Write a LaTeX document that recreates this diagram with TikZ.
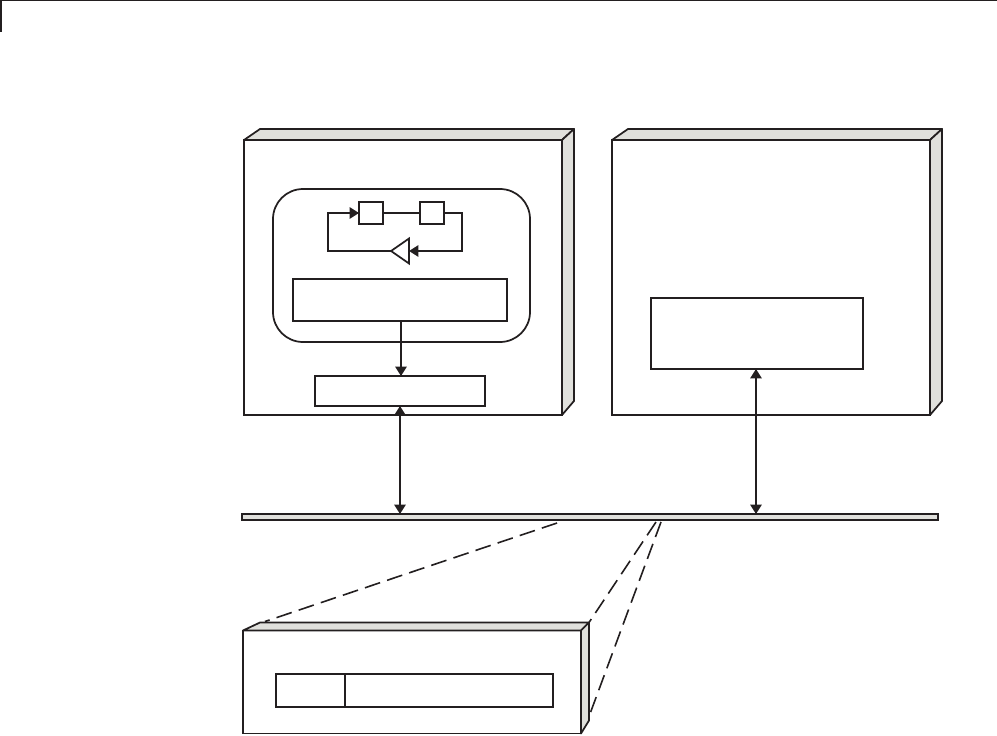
\documentclass[tikz,border=0pt]{standalone}
\usepackage{tikz}
\usetikzlibrary{arrows.meta, calc, positioning, shapes.geometric}
\definecolor{ink}{HTML}{231F20}
\definecolor{shade}{HTML}{E0E0DC}
\tikzset{
    edge/.style={draw=ink, line width=1.3pt},
    pane/.style 2 args={edge, fill=white, rectangle, inner sep=0pt, outer sep=0pt, minimum width=#1*0.75pt, minimum height=#2*0.75pt},
    face/.style={edge, fill=shade, line join=round},
    wire/.style={edge, -{Triangle[length=7pt,width=8.5pt]}},
    link/.style={edge, {Triangle[length=7pt,width=8.5pt]}-{Triangle[length=7pt,width=8.5pt]}},
    zoomline/.style={draw=ink, line width=1.2pt, dash pattern=on 12pt off 5.5pt}
}
\begin{document}
\begin{tikzpicture}[x=0.75pt, y=-0.75pt]
    \useasboundingbox (0,0) rectangle (997,736);

    % Page corner
    \coordinate (topl) at (0,0.6);
    \coordinate (topr) at (997,0.6);
    \coordinate (cornb) at (0.8,32);
    \draw[edge] (topl) -- (topr);
    \draw[edge] (0.8,0) -- (cornb);

    % Boards
    \node[pane={318}{275}] (boarda) at (403,277.5) {};
    \node[pane={318}{275}] (boardb) at (771,277.5) {};
    \foreach \b in {boarda, boardb} {
        \draw[face] (\b.north west) -- ++(16,-11) -- ($(\b.north east)+(12,-11)$) -- (\b.north east) -- cycle;
        \draw[face] (\b.north east) -- ++(12,-11) -- ($(\b.south east)+(12,-14)$) -- (\b.south east) -- cycle;
    }

    % Inner parts of left board
    \node[pane={257}{153}, rounded corners=30*0.75pt] (group) at (401.5,265.5) {};
    \node[pane={24}{22}] (delaya) at (371,213) {};
    \node[pane={24}{22}] (delayb) at (432,213) {};
    \node[edge, fill=white, isosceles triangle, isosceles triangle stretches, shape border rotate=180, inner sep=0pt, outer sep=0pt, minimum width=25*0.75pt, minimum height=18*0.75pt] (gain) at (402.5,251) {};
    \node[pane={214}{42}] (block) at (400,300) {};
    \node[pane={170}{30}] (port) at (400,391) {};

    % Loop
    \coordinate (loopl) at (328,251);
    \coordinate (loopr) at (462,251);
    \draw[edge] (delaya) -- (delayb);
    \draw[wire] (gain.west) -- (loopl) |- (delaya.west);
    \draw[wire] (delayb.east) -| (loopr) -- (gain.east);
    \coordinate (blockout) at ($(block.south)+(1,0)$);
    \draw[wire] (blockout) -- (blockout |- port.north);

    % Right board part
    \node[pane={212}{71}] (memory) at (757,333.5) {};
    \coordinate (memoryin) at ($(memory.south)+(-1,0)$);

    % Bus
    \node[pane={696}{6}, fill=shade] (bus) at (590,517) {};
    \draw[link] (port.south) -- (port.south |- bus.north);
    \draw[link] (memoryin) -- (memoryin |- bus.north);

    % Detail box
    \coordinate (bustapa) at (557,523);
    \coordinate (bustapb) at (656,522);
    \coordinate (bustapc) at (661,522);
    \node[pane={338}{103}] (detail) at (412,682) {};
    \draw[face] (detail.north west) -- ++(17,-8) -- ($(detail.north east)+(8,-8)$) -- (detail.north east) -- cycle;
    \draw[face] (detail.north east) -- ++(8,-8) -- ($(detail.south east)+(8,-13)$) -- (detail.south east) -- cycle;
    \draw[zoomline] (bustapa) -- ($(detail.north west)+(22,-9)$);
    \draw[zoomline] (bustapb) -- ($(detail.north east)+(8,-8)$);
    \draw[zoomline] (bustapc) -- ($(detail.south east)+(8,-17)$);

    % Register
    \node[pane={69}{33}] (regl) at (310.5,690.5) {};
    \node[pane={208}{33}, right=0pt of regl] (regr) {};

\end{tikzpicture}
\end{document}
